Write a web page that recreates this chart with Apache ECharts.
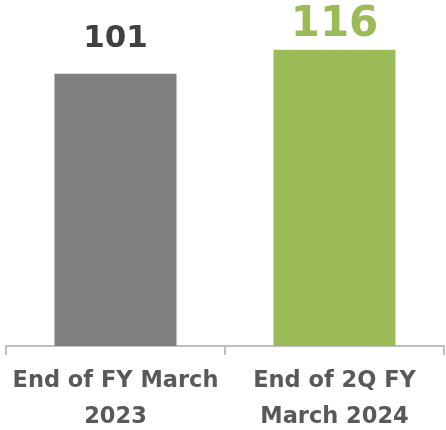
<!DOCTYPE html>
<html>
<head>
<meta charset="utf-8">
<script src="https://cdn.jsdelivr.net/npm/echarts@6/dist/echarts.min.js"></script>
<style>
  html, body { margin: 0; padding: 0; background: #fff; }
  #main { width: 446px; height: 430px; }
</style>
</head>
<body>
<div id="main"></div>
<script>
// categories and values
var categories = ['End of FY March\n2023', 'End of 2Q FY\nMarch 2024'];
var values = [101, 116];
var barColors = ['#7f7f7f', '#9bbb59'];
var labelColors = ['#404040', '#9bbb59'];
var labelSizes = [31, 42];
var labelGaps = [19, 4];

var chart = echarts.init(document.getElementById('main'));

var data = [];
for (var i = 0; i < values.length; i++) {
  data.push({
    value: values[i],
    itemStyle: { color: barColors[i] },
    label: {
      show: true,
      position: 'top',
      distance: labelGaps[i],
      color: labelColors[i],
      fontSize: labelSizes[i],
      fontWeight: 'bold',
      fontFamily: 'DejaVu Sans'
    }
  });
}

var option = {
  animation: false,
  grid: { left: 6, right: 2, top: 10, bottom: 84, outerBoundsMode: 'none' },
  xAxis: {
    type: 'category',
    data: categories,
    axisLine: { onZero: false, lineStyle: { color: '#bfbfbf', width: 2 } },
    axisTick: { show: true, length: 9, lineStyle: { color: '#bfbfbf', width: 2 } },
    axisLabel: {
      margin: 17,
      color: '#595959',
      fontSize: 22.5,
      fontWeight: 'bold',
      fontFamily: 'DejaVu Sans',
      lineHeight: 36,
      interval: 0
    }
  },
  // the original bars are drawn on a truncated scale, a log axis fits them
  yAxis: {
    type: 'log',
    min: 21,
    max: 145.8,
    show: false,
    splitLine: { show: false }
  },
  series: [{
    type: 'bar',
    barWidth: 122,
    clip: true,
    data: data
  }]
};

chart.setOption(option);
</script>
</body>
</html>
